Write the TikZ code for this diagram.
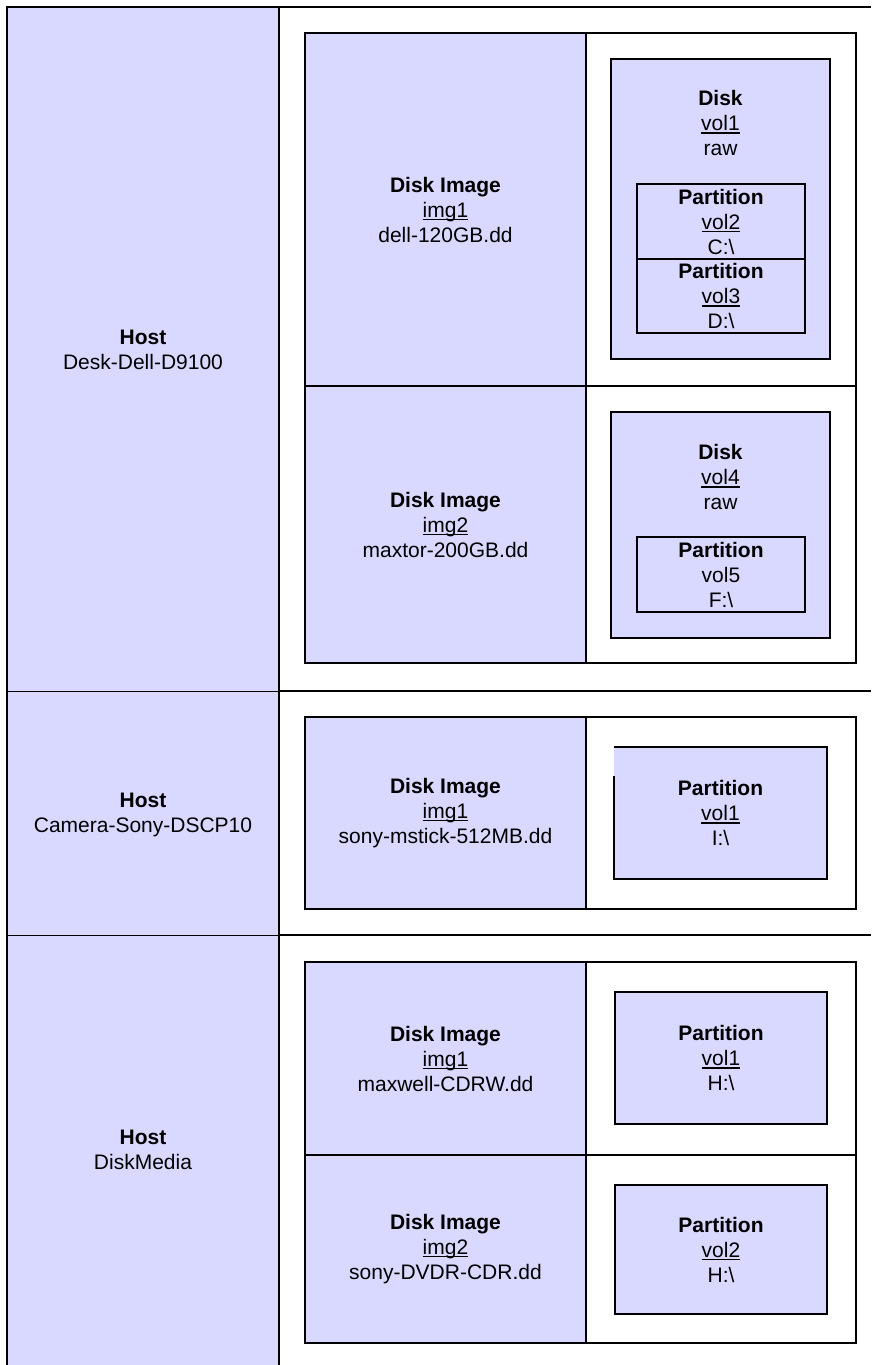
\documentclass[tikz,border=0pt]{standalone}
\usepackage{fontspec}
\setmainfont{Liberation Sans}
\definecolor{lav}{RGB}{217,217,255}
\newcommand{\ulx}[1]{\setbox0=\hbox{#1}\rlap{\rule[-3pt]{\wd0}{1.3pt}}\box0}
\begin{document}
\begin{tikzpicture}[x=1pt,y=-1pt,
  frame/.style={line width=1.8pt},
  thinrule/.style={line width=1pt},
  cell/.style={draw=black,line width=1.8pt,inner sep=0pt,outer sep=0pt,anchor=north west},
  lavcell/.style={cell,fill=lav},
  whitecell/.style={cell,fill=white},
  diskbox/.style={cell,fill=lav,line width=1.6pt},
  pbox/.style={cell,fill=lav,line width=1.5pt},
  txt/.style={align=center,inner sep=0pt,font=\fontsize{21}{25}\selectfont},
]
\useasboundingbox (0,0) rectangle (871,1365);
% host column
\fill[lav] (7,7) rectangle (279,1365);
\coordinate (tl) at (7,7); \coordinate (tr) at (871,7); \coordinate (bl) at (7,1365);
\coordinate (vt) at (279,7); \coordinate (vb) at (279,1365);
\coordinate (ra) at (7,691); \coordinate (rb) at (279,691); \coordinate (rc) at (871,691);
\coordinate (sa) at (7,935); \coordinate (sb) at (279,935); \coordinate (sc) at (871,935);
\draw[frame] (tr) -- (tl) -- (bl);
\draw[frame] (vt) -- (vb);
\draw[thinrule] (ra) -- (rb); \draw[frame] (rb) -- (rc);
\draw[thinrule] (sa) -- (sb); \draw[frame] (sb) -- (sc);

% row 1
\node[lavcell,minimum width=281pt,minimum height=353pt] (c11) at (305,33) {};
\node[whitecell,minimum width=270pt,minimum height=353pt] (c12) at (586,33) {};
\node[lavcell,minimum width=281pt,minimum height=277pt] (c21) at (305,386) {};
\node[whitecell,minimum width=270pt,minimum height=277pt] (c22) at (586,386) {};
\node[diskbox,minimum width=219pt,minimum height=300pt] (d1) at (611,59) {};
\node[pbox,minimum width=168pt,minimum height=75pt] (p2) at (637,184) {};
\node[pbox,minimum width=168pt,minimum height=74pt] (p3) at (637,259) {};
\node[diskbox,minimum width=219pt,minimum height=226pt] (d4) at (611,412) {};
\node[pbox,minimum width=168pt,minimum height=75pt] (p5) at (637,537) {};

% row 2
\node[lavcell,minimum width=281pt,minimum height=192pt] (e11) at (305,717) {};
\node[whitecell,minimum width=270pt,minimum height=192pt] (e12) at (586,717) {};
\node[fill=lav,inner sep=0pt,outer sep=0pt,anchor=north west,minimum width=213pt,minimum height=132pt] (q1) at (614,747) {};
\draw[line width=1.6pt] ([yshift=-29pt]q1.north west) -- (q1.south west) -- (q1.south east) -- (q1.north east) -- (q1.north west);

% row 3
\node[lavcell,minimum width=281pt,minimum height=193pt] (f11) at (305,962) {};
\node[whitecell,minimum width=270pt,minimum height=193pt] (f12) at (586,962) {};
\node[lavcell,minimum width=281pt,minimum height=188pt] (f21) at (305,1155) {};
\node[whitecell,minimum width=270pt,minimum height=188pt] (f22) at (586,1155) {};
\node[pbox,minimum width=212pt,minimum height=132pt] (q2) at (615,992) {};
\node[pbox,minimum width=212pt,minimum height=129pt] (q3) at (615,1185) {};

% texts
\node[txt] (th1) at (143,350) {\textbf{Host}\\Desk-Dell-D9100};
\node[txt] (th2) at (143,815) {\textbf{Host}\\Camera-Sony-DSCP10};
\node[txt] (th3) at (143,1150) {\textbf{Host}\\DiskMedia};
\node[txt] (ti1) at (c11.center) {\textbf{Disk Image}\\\ulx{img1}\\dell-120GB.dd};
\node[txt] (ti2) at (c21.center) {\textbf{Disk Image}\\\ulx{img2}\\maxtor-200GB.dd};
\node[txt] (td1) at (720.5,123) {\textbf{Disk}\\\ulx{vol1}\\raw};
\node[txt] (tp2) at (p2.center) {\textbf{Partition}\\\ulx{vol2}\\C:\textbackslash};
\node[txt] (tp3) at (p3.center) {\textbf{Partition}\\\ulx{vol3}\\D:\textbackslash};
\node[txt] (td4) at (720.5,477) {\textbf{Disk}\\\ulx{vol4}\\raw};
\node[txt] (tp5) at (p5.center) {\textbf{Partition}\\vol5\\F:\textbackslash};
\node[txt] (te1) at (e11.center) {\textbf{Disk Image}\\\ulx{img1}\\sony-mstick-512MB.dd};
\node[txt] (tq1) at (q1.center) {\textbf{Partition}\\\ulx{vol1}\\I:\textbackslash};
\node[txt] (tf1) at (f11.center) {\textbf{Disk Image}\\\ulx{img1}\\maxwell-CDRW.dd};
\node[txt] (tq2) at (q2.center) {\textbf{Partition}\\\ulx{vol1}\\H:\textbackslash};
\node[txt] (tf2) at (f21.center) {\textbf{Disk Image}\\\ulx{img2}\\sony-DVDR-CDR.dd};
\node[txt] (tq3) at (q3.center) {\textbf{Partition}\\\ulx{vol2}\\H:\textbackslash};
\end{tikzpicture}
\end{document}
